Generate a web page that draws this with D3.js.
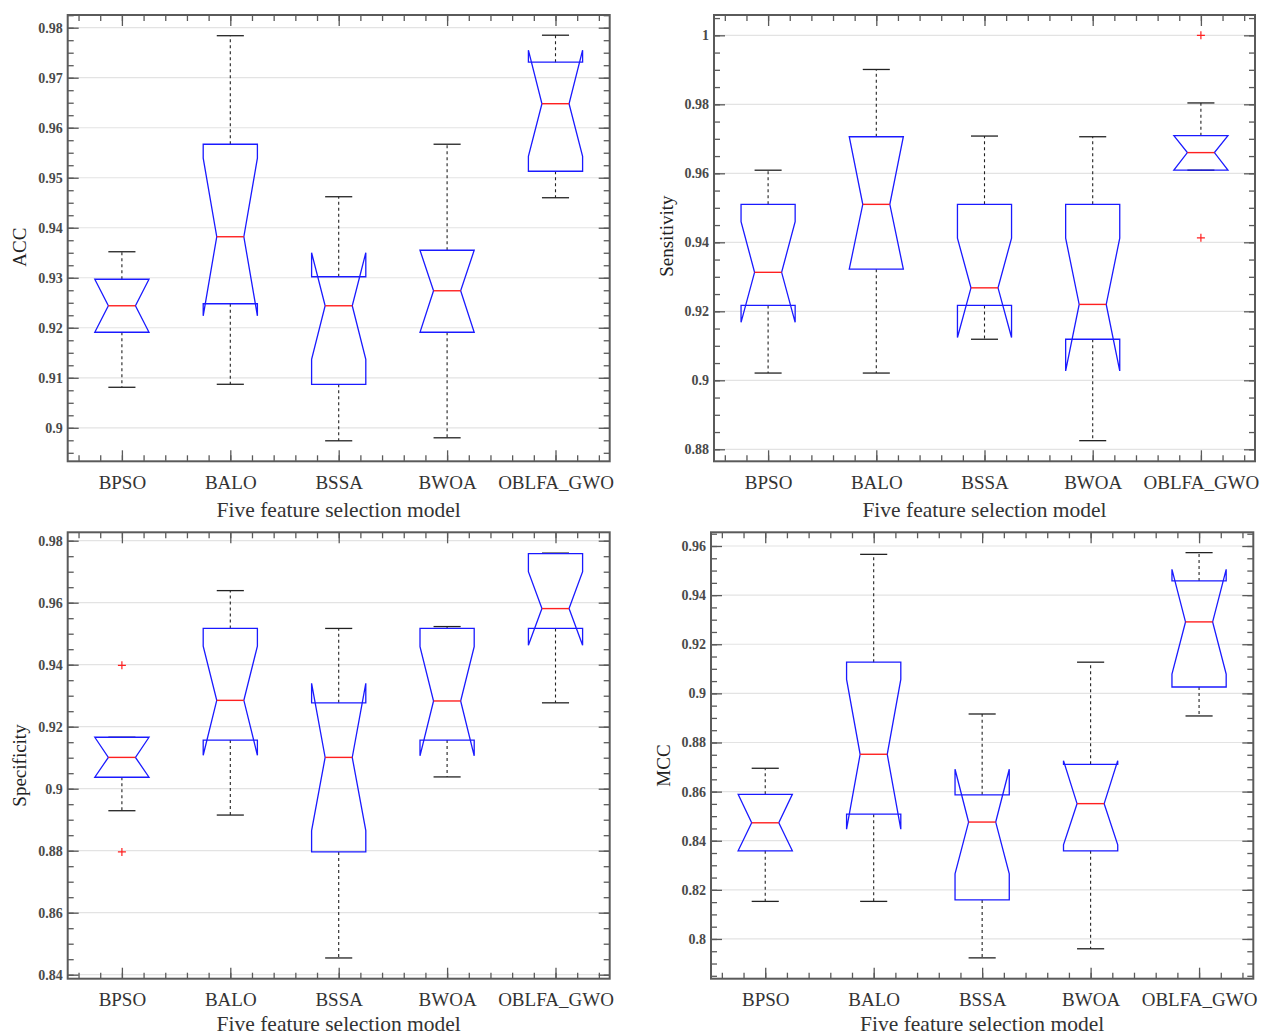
<!DOCTYPE html>
<html>
<head>
<meta charset="utf-8">
<script src="https://cdn.jsdelivr.net/npm/d3@7"></script>
<style>
  html, body { margin: 0; padding: 0; background: #fff; }
  svg { display: block; }
</style>
</head>
<body>
<svg id="chart" width="1261" height="1036"></svg>
<script>
// ---------------- DATA ----------------
const categories = ["BPSO", "BALO", "BSSA", "BWOA", "OBLFA_GWO"];

// ACC
const accLow      = [0.9081, 0.9087, 0.8974, 0.8980, 0.9460];
const accQ1       = [0.9191, 0.9248, 0.9087, 0.9191, 0.9513];
const accNotchLo  = [0.9191, 0.9224, 0.9137, 0.9191, 0.9543];
const accMedian   = [0.9244, 0.9382, 0.9244, 0.9274, 0.9648];
const accNotchHi  = [0.9297, 0.9539, 0.9350, 0.9355, 0.9755];
const accQ3       = [0.9297, 0.9567, 0.9302, 0.9355, 0.9731];
const accHigh     = [0.9352, 0.9784, 0.9462, 0.9567, 0.9785];
const accOutliers = [];

// Sensitivity
const sensLow      = [0.9021, 0.9021, 0.9119, 0.8825, 0.9609];
const sensQ1       = [0.9217, 0.9322, 0.9217, 0.9119, 0.9609];
const sensNotchLo  = [0.9168, 0.9322, 0.9124, 0.9027, 0.9609];
const sensMedian   = [0.9313, 0.9510, 0.9268, 0.9220, 0.9660];
const sensNotchHi  = [0.9460, 0.9706, 0.9412, 0.9412, 0.9709];
const sensQ3       = [0.9510, 0.9706, 0.9510, 0.9510, 0.9709];
const sensHigh     = [0.9609, 0.9901, 0.9708, 0.9706, 0.9804];
const sensOutliers = [[4, 1.0], [4, 0.9413]];

// Specificity
const specLow      = [0.8929, 0.8915, 0.8454, 0.9038, 0.9277];
const specQ1       = [0.9037, 0.9157, 0.8796, 0.9157, 0.9517];
const specNotchLo  = [0.9037, 0.9108, 0.8865, 0.9106, 0.9463];
const specMedian   = [0.9101, 0.9285, 0.9101, 0.9283, 0.9581];
const specNotchHi  = [0.9166, 0.9460, 0.9340, 0.9458, 0.9700];
const specQ3       = [0.9166, 0.9517, 0.9277, 0.9517, 0.9758];
const specHigh     = [0.9166, 0.9639, 0.9517, 0.9523, 0.9760];
const specOutliers = [[0, 0.9398], [0, 0.8796]];

// MCC
const mccLow      = [0.8153, 0.8153, 0.7923, 0.7960, 0.8908];
const mccQ1       = [0.8359, 0.8508, 0.8159, 0.8359, 0.9026];
const mccNotchLo  = [0.8359, 0.8447, 0.8265, 0.8383, 0.9078];
const mccMedian   = [0.8473, 0.8752, 0.8476, 0.8551, 0.9291];
const mccNotchHi  = [0.8589, 0.9057, 0.8691, 0.8726, 0.9505];
const mccQ3       = [0.8589, 0.9127, 0.8587, 0.8711, 0.9458];
const mccHigh     = [0.8695, 0.9566, 0.8916, 0.9127, 0.9573];
const mccOutliers = [];

// Y tick values
const accTicks  = [0.90, 0.91, 0.92, 0.93, 0.94, 0.95, 0.96, 0.97, 0.98];
const sensTicks = [0.88, 0.90, 0.92, 0.94, 0.96, 0.98, 1.00];
const specTicks = [0.84, 0.86, 0.88, 0.90, 0.92, 0.94, 0.96, 0.98];
const mccTicks  = [0.80, 0.82, 0.84, 0.86, 0.88, 0.90, 0.92, 0.94, 0.96];

const xLabel = "Five feature selection model";

// ---------------- LAYOUT ----------------
const panels = [
  { name: "ACC", l: 67.7, t: 15, r: 609.7, b: 461.3, domain: [0.8933, 0.98254], ticks: accTicks, minor: 0.0025, labelDy: 9, xlDy: 56,
    stats: [accLow, accQ1, accNotchLo, accMedian, accNotchHi, accQ3, accHigh], outliers: accOutliers },
  { name: "Sensitivity", l: 714, t: 15, r: 1255, b: 461.3, domain: [0.87652, 1.00589], ticks: sensTicks, minor: 0.005, labelDy: -2, xlDy: 56,
    stats: [sensLow, sensQ1, sensNotchLo, sensMedian, sensNotchHi, sensQ3, sensHigh], outliers: sensOutliers },
  { name: "Specificity", l: 67.7, t: 532.3, r: 609.7, b: 978.7, domain: [0.83871, 0.98271], ticks: specTicks, minor: 0.005, labelDy: 10, xlDy: 52.5,
    stats: [specLow, specQ1, specNotchLo, specMedian, specNotchHi, specQ3, specHigh], outliers: specOutliers },
  { name: "MCC", l: 711, t: 532.3, r: 1253.3, b: 978.7, domain: [0.78382, 0.96558], ticks: mccTicks, minor: 0.005, labelDy: 10, xlDy: 52.5,
    stats: [mccLow, mccQ1, mccNotchLo, mccMedian, mccNotchHi, mccQ3, mccHigh], outliers: mccOutliers }
];

const serif = "'Liberation Serif', 'Times New Roman', serif";
const svg = d3.select("#chart");

function fmt(v) { return String(+v.toFixed(3)); }

panels.forEach(p => {
  const g = svg.append("g");
  const x = d3.scaleLinear().domain([0.5, 5.5]).range([p.l, p.r]);
  const y = d3.scaleLinear().domain(p.domain).range([p.b, p.t]);

  // grid
  g.append("g").selectAll("line").data(p.ticks).join("line")
    .attr("x1", p.l).attr("x2", p.r)
    .attr("y1", d => y(d)).attr("y2", d => y(d))
    .attr("stroke", "#e3e3e3").attr("stroke-width", 1.2);

  // minor tick values
  const k0 = Math.ceil(p.domain[0] / p.minor - 1e-6), k1 = Math.floor(p.domain[1] / p.minor + 1e-6);
  const yMinor = d3.range(k0, k1 + 1).map(k => +(k * p.minor).toFixed(5));
  const xMinor = d3.range(3, 28).map(k => +(k * 0.2).toFixed(2)).filter(v => v > 0.5 && v < 5.5);
  const xMajor = [1, 2, 3, 4, 5];

  function styleAxis(sel) {
    sel.select(".domain").remove();
    sel.selectAll(".tick line").attr("stroke", "#5a5a5a").attr("stroke-width", 1.3);
  }

  // Y axes
  g.append("g").attr("transform", `translate(${p.l},0)`)
    .call(d3.axisLeft(y).tickValues(yMinor).tickSize(-6).tickFormat("")).call(styleAxis);
  g.append("g").attr("transform", `translate(${p.r},0)`)
    .call(d3.axisRight(y).tickValues(yMinor).tickSize(-6).tickFormat("")).call(styleAxis);
  const yl = g.append("g").attr("transform", `translate(${p.l},0)`)
    .call(d3.axisLeft(y).tickValues(p.ticks).tickSize(-11).tickPadding(5).tickFormat(fmt)).call(styleAxis);
  yl.selectAll("text").attr("font-family", serif).attr("font-size", 14).attr("font-weight", "bold").attr("fill", "#4a4a4a");
  g.append("g").attr("transform", `translate(${p.r},0)`)
    .call(d3.axisRight(y).tickValues(p.ticks).tickSize(-11).tickFormat("")).call(styleAxis);

  // X axes
  g.append("g").attr("transform", `translate(0,${p.b})`)
    .call(d3.axisBottom(x).tickValues(xMinor).tickSize(-6).tickFormat("")).call(styleAxis);
  g.append("g").attr("transform", `translate(0,${p.t})`)
    .call(d3.axisTop(x).tickValues(xMinor).tickSize(-6).tickFormat("")).call(styleAxis);
  const xb = g.append("g").attr("transform", `translate(0,${p.b})`)
    .call(d3.axisBottom(x).tickValues(xMajor).tickSize(-11).tickPadding(0).tickFormat(i => categories[i - 1])).call(styleAxis);
  xb.selectAll("text").attr("font-family", serif).attr("font-size", 19).attr("fill", "#333")
    .attr("dy", null).attr("y", 27.5);
  g.append("g").attr("transform", `translate(0,${p.t})`)
    .call(d3.axisTop(x).tickValues(xMajor).tickSize(-11).tickFormat("")).call(styleAxis);

  // frame
  g.append("rect").attr("x", p.l).attr("y", p.t).attr("width", p.r - p.l).attr("height", p.b - p.t)
    .attr("fill", "none").attr("stroke", "#5a5a5a").attr("stroke-width", 2);

  // labels
  g.append("text").attr("x", (p.l + p.r) / 2).attr("y", p.b + p.xlDy)
    .attr("text-anchor", "middle").attr("font-family", serif).attr("font-size", 21.5).attr("fill", "#333")
    .text(xLabel);
  const cy = (p.t + p.b) / 2 + p.labelDy;
  g.append("text").attr("transform", `translate(${p.l - 41.5},${cy}) rotate(-90)`)
    .attr("text-anchor", "middle").attr("font-family", serif).attr("font-size", 19).attr("fill", "#222")
    .text(p.name);

  // boxes
  const [lo, q1, nlo, med, nhi, q3, hi] = p.stats;
  const hw = 0.25, nw = 0.125;
  const rows = categories.map((c, i) => ({ i: i + 1, lo: lo[i], q1: q1[i], nlo: nlo[i], med: med[i], nhi: nhi[i], q3: q3[i], hi: hi[i] }));
  const bg = g.append("g");
  // whiskers
  bg.selectAll(".wu").data(rows).join("line")
    .attr("x1", d => x(d.i)).attr("x2", d => x(d.i)).attr("y1", d => y(d.q3)).attr("y2", d => y(d.hi))
    .attr("stroke", "#222").attr("stroke-width", 1.1).attr("stroke-dasharray", "3,3");
  bg.selectAll(".wl").data(rows).join("line")
    .attr("x1", d => x(d.i)).attr("x2", d => x(d.i)).attr("y1", d => y(d.q1)).attr("y2", d => y(d.lo))
    .attr("stroke", "#222").attr("stroke-width", 1.1).attr("stroke-dasharray", "3,3");
  // caps
  ["hi", "lo"].forEach(key => {
    bg.append("g").selectAll("line").data(rows).join("line")
      .attr("x1", d => x(d.i - nw)).attr("x2", d => x(d.i + nw))
      .attr("y1", d => y(d[key])).attr("y2", d => y(d[key]))
      .attr("stroke", "#222").attr("stroke-width", 1.3);
  });
  // notched box
  bg.append("g").selectAll("path").data(rows).join("path")
    .attr("d", d => d3.line()([
      [x(d.i - hw), y(d.q3)], [x(d.i - hw), y(d.nhi)], [x(d.i - nw), y(d.med)], [x(d.i - hw), y(d.nlo)],
      [x(d.i - hw), y(d.q1)], [x(d.i + hw), y(d.q1)], [x(d.i + hw), y(d.nlo)], [x(d.i + nw), y(d.med)],
      [x(d.i + hw), y(d.nhi)], [x(d.i + hw), y(d.q3)]
    ]) + "Z")
    .attr("fill", "none").attr("stroke", "#1a1aff").attr("stroke-width", 1.3);
  // median
  bg.append("g").selectAll("line").data(rows).join("line")
    .attr("x1", d => x(d.i - nw)).attr("x2", d => x(d.i + nw))
    .attr("y1", d => y(d.med)).attr("y2", d => y(d.med))
    .attr("stroke", "#ff2020").attr("stroke-width", 1.4);
  // outliers
  const og = bg.append("g");
  p.outliers.forEach(([ci, v]) => {
    const cx = x(ci + 1), yy = y(v), s = 4;
    og.append("path").attr("d", `M${cx - s},${yy}H${cx + s}M${cx},${yy - s}V${yy + s}`)
      .attr("stroke", "#ff2020").attr("stroke-width", 1.2).attr("fill", "none");
  });
});
</script>
</body>
</html>
